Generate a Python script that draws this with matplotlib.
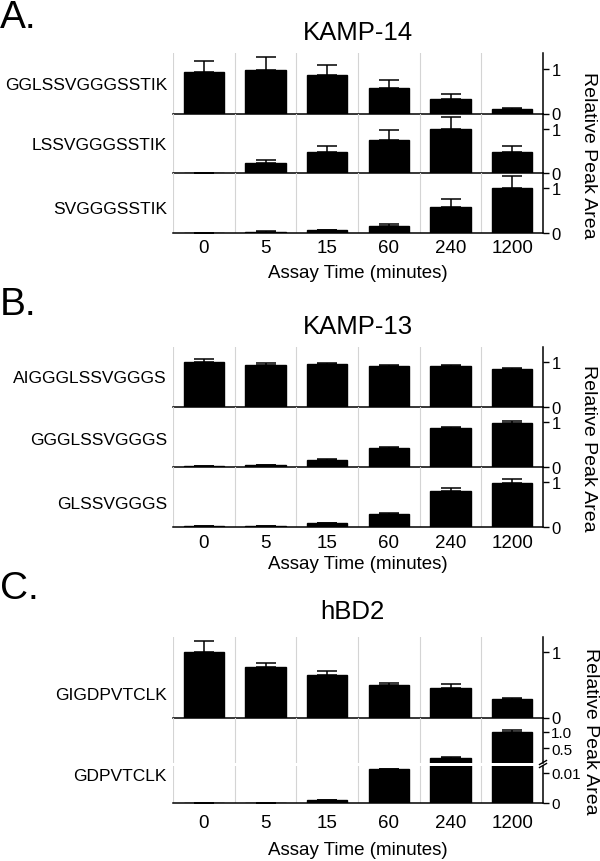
import matplotlib.pyplot as plt
from matplotlib.lines import Line2D

plt.rcParams['font.family'] = ['Liberation Sans', 'DejaVu Sans']

W, H = 600, 862

times = ["0", "5", "15", "60", "240", "1200"]

# Panel A: KAMP-14 (relative peak area, mean and upper error)
kamp14_peptides = ["GGLSSVGGGSSTIK", "LSSVGGGSSTIK", "SVGGGSSTIK"]
kamp14_means = [
    [0.93, 0.98, 0.85, 0.58, 0.33, 0.10],
    [0.01, 0.23, 0.47, 0.76, 0.99, 0.48],
    [0.00, 0.02, 0.05, 0.15, 0.58, 1.00],
]
kamp14_err = [
    [0.24, 0.27, 0.23, 0.16, 0.10, 0.03],
    [0.00, 0.06, 0.14, 0.21, 0.28, 0.13],
    [0.00, 0.005, 0.01, 0.05, 0.19, 0.28],
]

# Panel B: KAMP-13
kamp13_peptides = ["AIGGGLSSVGGGS", "GGGLSSVGGGS", "GLSSVGGGS"]
kamp13_means = [
    [1.00, 0.95, 0.96, 0.91, 0.91, 0.85],
    [0.01, 0.03, 0.16, 0.41, 0.88, 0.99],
    [0.02, 0.015, 0.08, 0.29, 0.80, 0.98],
]
kamp13_err = [
    [0.07, 0.04, 0.03, 0.04, 0.04, 0.02],
    [0.005, 0.01, 0.015, 0.04, 0.02, 0.04],
    [0.005, 0.005, 0.01, 0.02, 0.07, 0.10],
]

# Panel C: hBD2
hbd2_peptides = ["GIGDPVTCLK", "GDPVTCLK"]
hbd2_means = [
    [1.00, 0.77, 0.65, 0.49, 0.455, 0.28],
    [0.0, 0.0, 0.001, 0.0111, 0.21, 0.99],
]
hbd2_err = [
    [0.17, 0.07, 0.06, 0.03, 0.055, 0.02],
    [0.0, 0.0, 0.0001, 0.0, 0.02, 0.07],
]

L, R = 173, 543
fig = plt.figure(figsize=(W / 100, H / 100), dpi=100)


def fx(x):
    return x / W


def fy(y):
    return 1 - y / H


def add_row(top, bottom):
    return fig.add_axes([fx(L), fy(bottom), fx(R) - fx(L), (bottom - top) / H])


def style_row(ax, ylim, yticks, ylabels, show_bottom=True, ysize=12):
    x = range(len(times))
    ax.set_xlim(-0.5, len(times) - 0.5)
    ax.set_ylim(*ylim)
    for b in [i - 0.5 for i in x]:
        ax.axvline(b, color="#d4d4d4", lw=0.8, zorder=0)
    for s in ["left", "top"]:
        ax.spines[s].set_visible(False)
    ax.spines["bottom"].set_visible(show_bottom)
    ax.spines["bottom"].set_linewidth(1.1)
    ax.spines["right"].set_linewidth(1.1)
    ax.yaxis.tick_right()
    ax.set_yticks(yticks)
    ax.set_yticklabels(ylabels)
    ax.tick_params(axis="y", direction="out", length=4, width=1.0, labelsize=ysize, pad=2)
    ax.set_xticks(list(x))
    ax.tick_params(axis="x", length=0, labelbottom=False)
    ax.patch.set_alpha(0)


def draw_bars(ax, means, err):
    x = range(len(times))
    ax.bar(x, means, width=0.65, color="black", edgecolor="black", zorder=2)
    ax.errorbar(x, means, yerr=[[0] * len(err), err], fmt="none", ecolor="black",
                elinewidth=1.1, capsize=7.2, capthick=1.1, zorder=3)


def finish_bottom(ax, pad, labelpad):
    ax.tick_params(axis="x", labelbottom=True, labelsize=13.5, pad=pad)
    ax.set_xticklabels(times)
    ax.set_xlabel("Assay Time (minutes)", fontsize=13.5, labelpad=labelpad)


def stacked_panel(rows, names, means, errs, label_y, pad, labelpad):
    axes = []
    for (top, bottom), m, e in zip(rows, means, errs):
        ax = add_row(top, bottom)
        style_row(ax, (0, 1.35), [0, 1], ["0", "1"])
        draw_bars(ax, m, e)
        axes.append(ax)
    for name, y in zip(names, label_y):
        fig.text(fx(167), fy(y), name, ha="right", va="center", fontsize=12.5)
    finish_bottom(axes[-1], pad, labelpad)
    return axes


# ---- Panel A ----
fig.text(fx(0), fy(18), "A.", fontsize=28, ha="left", va="center")
fig.text(fx(358), fy(32.5), "KAMP-14", fontsize=18.5, ha="center", va="center")
stacked_panel([(54, 114.5), (114.5, 174), (174, 233.5)], kamp14_peptides,
              kamp14_means, kamp14_err, [85, 146, 210], pad=4.9, labelpad=5.3)
fig.text(fx(589), fy(155), "Relative Peak Area", rotation=270, fontsize=14,
         ha="center", va="center")

# ---- Panel B ----
fig.text(fx(0), fy(305), "B.", fontsize=28, ha="left", va="center")
fig.text(fx(358), fy(327), "KAMP-13", fontsize=18.5, ha="center", va="center")
stacked_panel([(348, 407.7), (407.7, 467.7), (467.7, 527.7)], kamp13_peptides,
              kamp13_means, kamp13_err, [379, 441, 505], pad=5.2, labelpad=3)
fig.text(fx(589), fy(448), "Relative Peak Area", rotation=270, fontsize=14,
         ha="center", va="center")

# ---- Panel C ----
fig.text(fx(0), fy(589), "C.", fontsize=28, ha="left", va="center")
fig.text(fx(352), fy(612), "hBD2", fontsize=18.5, ha="center", va="center")

axc1 = add_row(638, 718.5)
style_row(axc1, (0, 1.23), [0, 1], ["0", "1"])
draw_bars(axc1, hbd2_means[0], hbd2_err[0])

# broken axis for the second peptide
axc_up = add_row(718.5, 763.5)
style_row(axc_up, (0.075, 1.43), [0.5, 1.0], ["0.5", "1.0"], show_bottom=False, ysize=11)
draw_bars(axc_up, hbd2_means[1], hbd2_err[1])

axc_lo = add_row(766.5, 804)
style_row(axc_lo, (0, 0.0123), [0, 0.01], ["0", "0.01"], ysize=11)
draw_bars(axc_lo, hbd2_means[1], hbd2_err[1])
finish_bottom(axc_lo, pad=7.9, labelpad=6.9)

for y in (763.5, 766.5):
    fig.add_artist(Line2D([fx(R - 3.5), fx(R + 3.5)], [fy(y + 2), fy(y - 2)],
                          color="black", lw=1.0))

fig.text(fx(167), fy(696), hbd2_peptides[0], ha="right", va="center", fontsize=12.5)
fig.text(fx(167), fy(777), hbd2_peptides[1], ha="right", va="center", fontsize=12.5)
fig.text(fx(590), fy(731), "Relative Peak Area", rotation=270, fontsize=14,
         ha="center", va="center")

fig.savefig("out.png", dpi=100)
